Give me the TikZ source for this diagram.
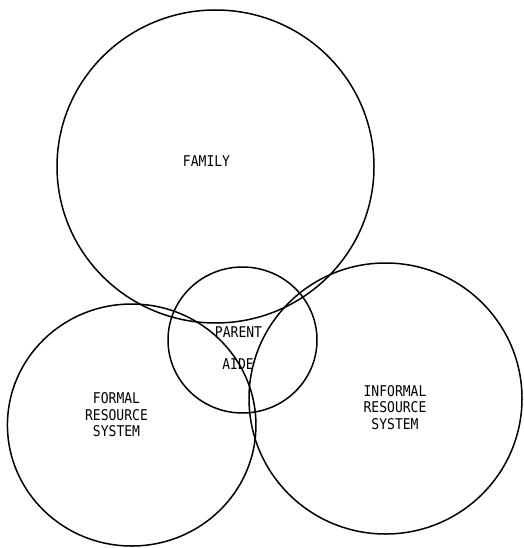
\documentclass[tikz,border=0pt]{standalone}
\usepackage{fontspec}
\newfontfamily\typew[FakeStretch=0.88]{DejaVu Sans Mono}
\usetikzlibrary{shapes.geometric}
\begin{document}
\begin{tikzpicture}[x=1pt,y=-1pt,
  ring/.style={draw=black,line width=1.5pt,ellipse,inner sep=0pt,fill=none},
  lbl/.style={inner sep=0pt,align=center,font=\typew\fontsize{14.8}{16.6}\selectfont,text=black}]
\useasboundingbox[fill=white] (0,0) rectangle (523,548);
\node[ring,minimum width=317pt,minimum height=313pt] (family) at (215.5,166.5) {};
\node[ring,minimum width=149pt,minimum height=146pt] (aide) at (242.5,340) {};
\node[ring,minimum width=248.5pt,minimum height=242pt] (formal) at (131.7,425) {};
\node[ring,minimum width=273pt,minimum height=271pt] (informal) at (385.5,398.5) {};
\node[lbl] (tfamily) at (206.5,161) {FAMILY};
\node[lbl] (tparent) at (238.5,332.5) {PARENT};
\node[lbl] (taide) at (238,364) {AIDE};
\node[lbl] (tformal) at (116.5,415) {FORMAL\\RESOURCE\\SYSTEM};
\node[lbl] (tinformal) at (395,407.5) {INFORMAL\\RESOURCE\\SYSTEM};
\end{tikzpicture}
\end{document}
